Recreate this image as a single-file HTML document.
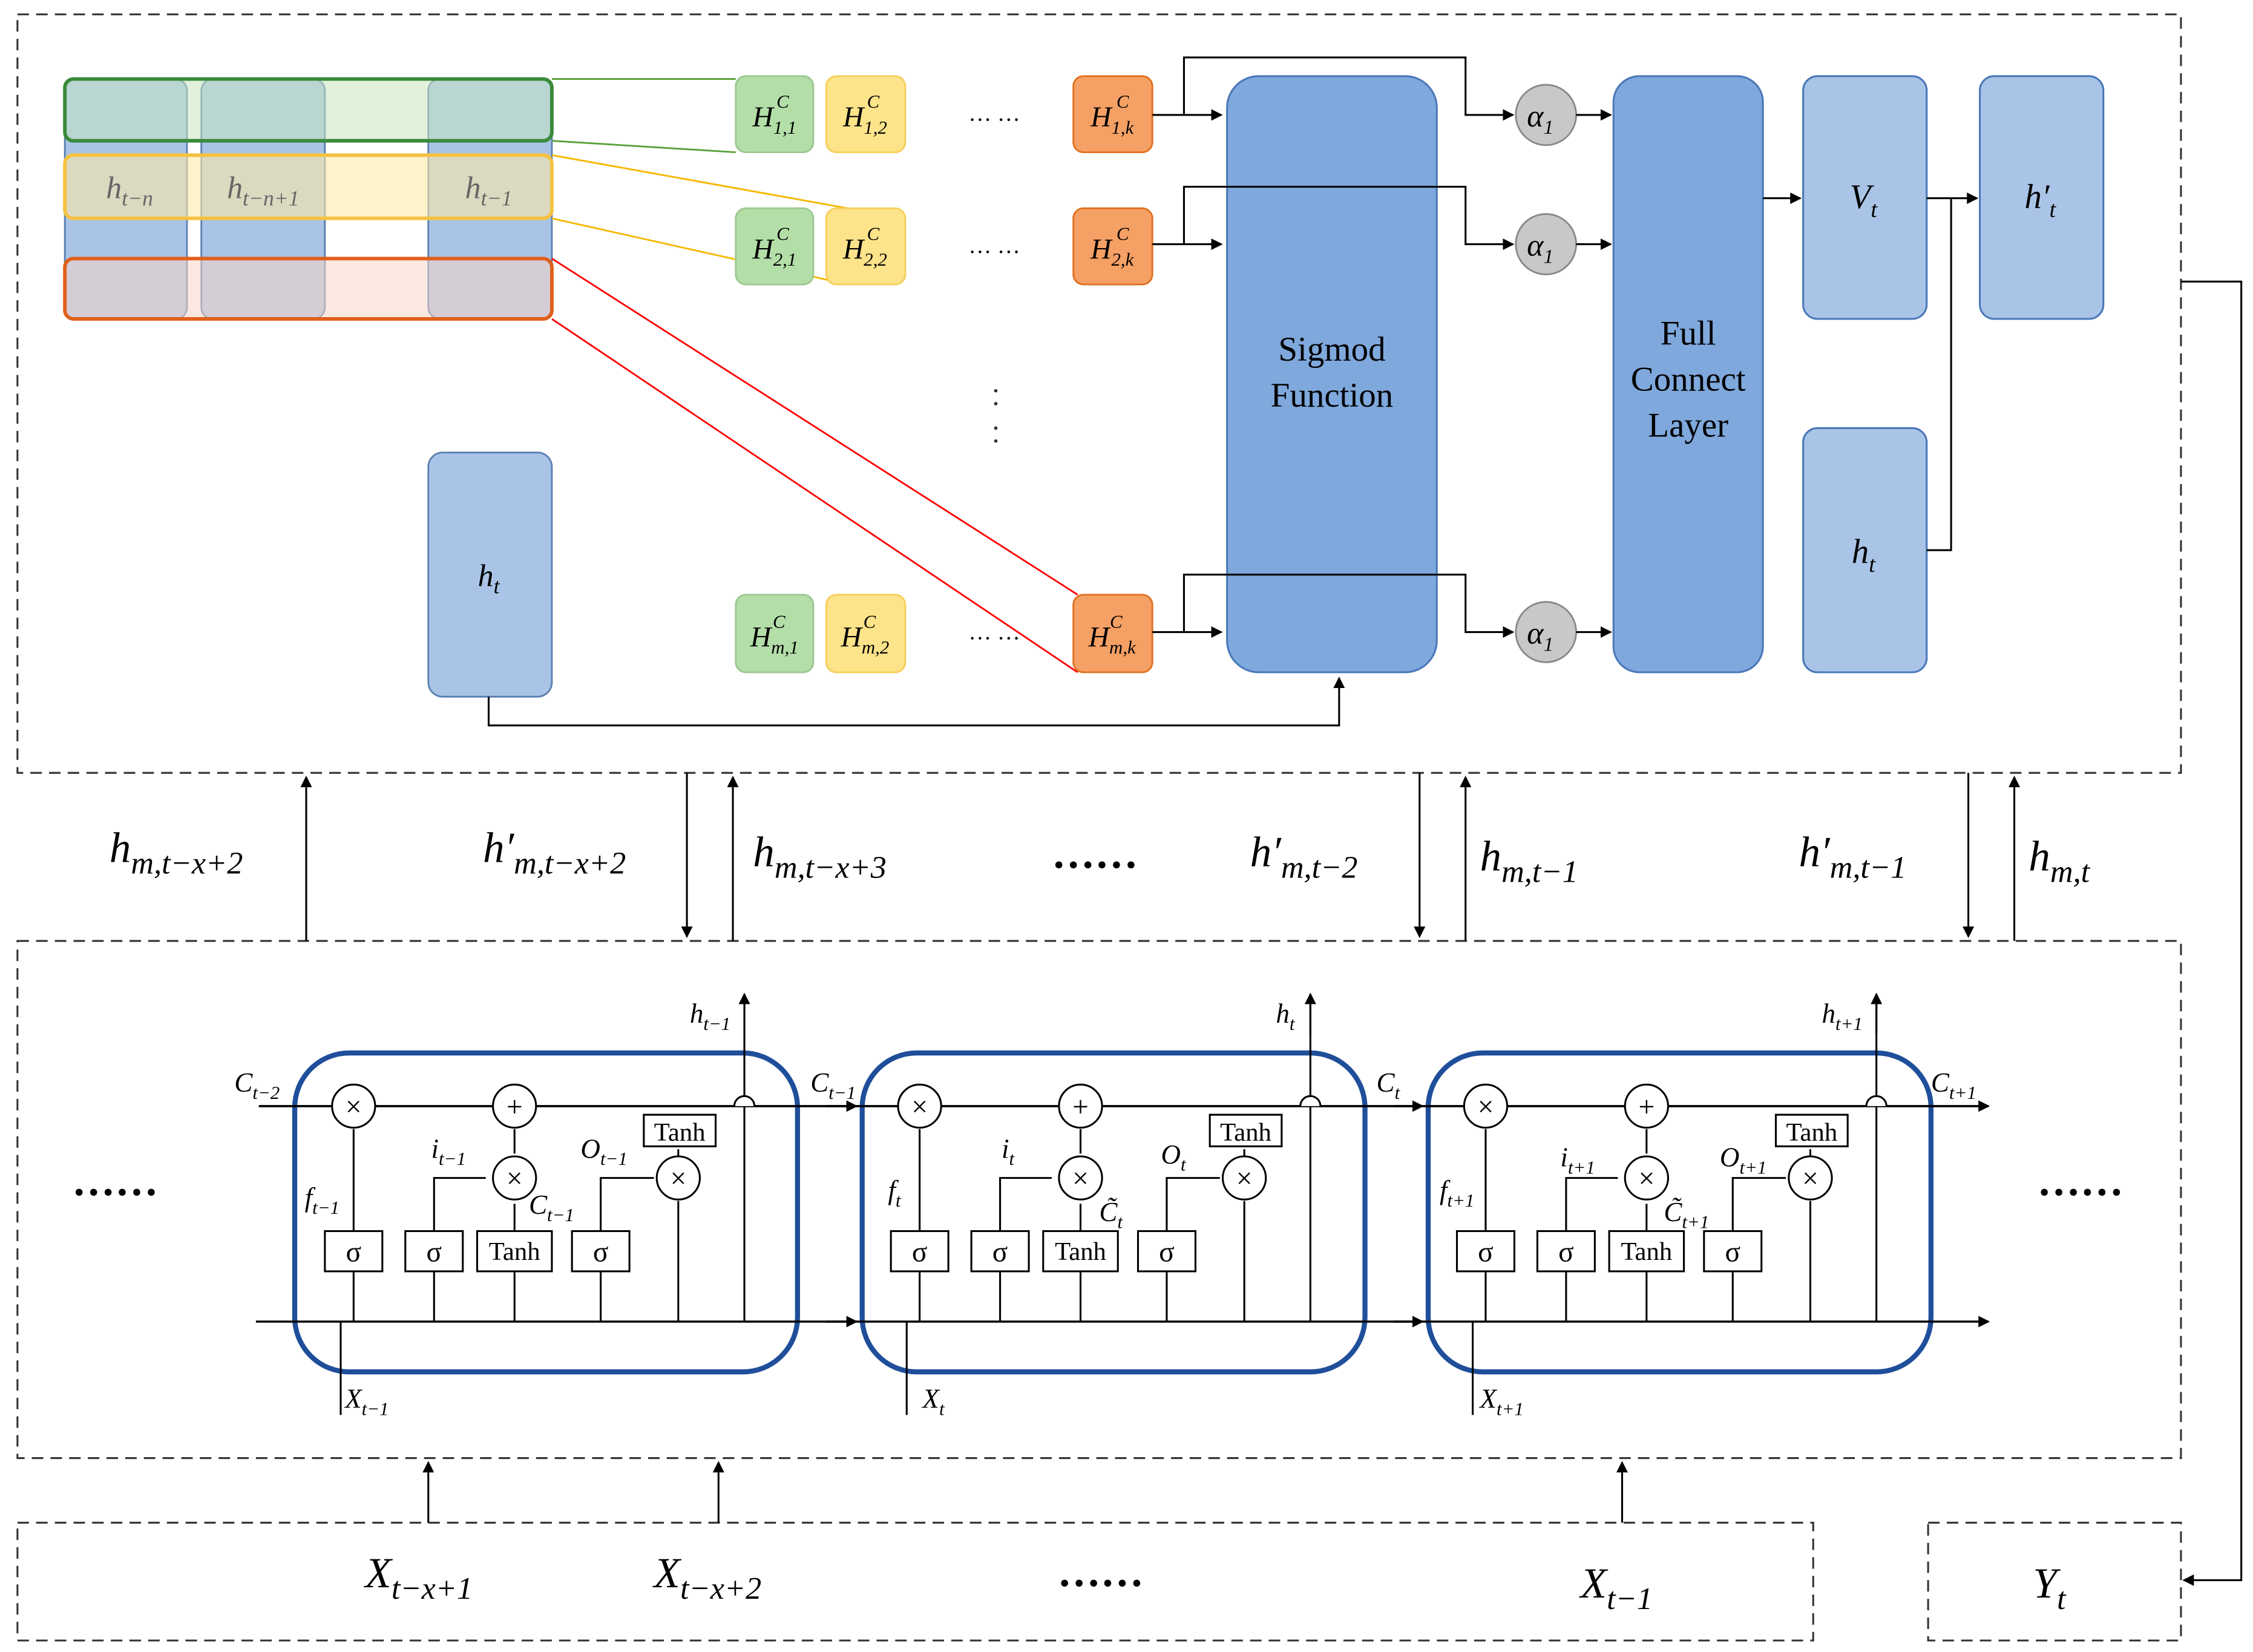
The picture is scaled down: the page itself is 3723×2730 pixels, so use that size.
<!DOCTYPE html>
<html><head><meta charset="utf-8"><style>
html,body{margin:0;padding:0;background:#fff;}
svg{display:block;}
text{font-family:"Liberation Serif",serif;}
.it{font-style:italic;}
</style></head><body>
<svg width="3723" height="2730" viewBox="0 0 1568 1150" xmlns="http://www.w3.org/2000/svg">
<defs>
<marker id="a" markerWidth="8" markerHeight="8" refX="7" refY="4" orient="auto" markerUnits="userSpaceOnUse"><path d="M0,0 L8,4 L0,8 z" fill="#000"/></marker>
</defs>
<rect width="1568" height="1150" fill="#fff"/>
<!-- dashed boxes -->
<g fill="none" stroke="#333" stroke-width="1.3" stroke-dasharray="8,5">
<rect x="12" y="10" width="1506" height="528"/>
<rect x="12" y="655" width="1506" height="360"/>
<rect x="12" y="1060" width="1250" height="82"/>
<rect x="1342" y="1060" width="176" height="82"/>
</g>
<!-- left stack columns -->
<g fill="#a9c4e6" stroke="#5a7fb0" stroke-width="1.2">
<rect x="45" y="55" width="85" height="167" rx="8"/>
<rect x="140" y="55" width="86" height="167" rx="8"/>
<rect x="298" y="55" width="86" height="167" rx="8"/>
<rect x="298" y="315" width="86" height="170" rx="10"/>
</g>
<rect x="45" y="55" width="339" height="43" rx="6" fill="#c9e6c0" fill-opacity="0.55" stroke="#3a8a3a" stroke-width="2.5"/>
<rect x="45" y="108" width="339" height="44" rx="6" fill="#fde9a8" fill-opacity="0.6" stroke="#f5c242" stroke-width="2.5"/>
<rect x="45" y="180" width="339" height="42" rx="6" fill="#f8d5c8" fill-opacity="0.55" stroke="#e0601a" stroke-width="2.5"/>
<text x="90" y="138" font-size="22" class="it" fill="#666" text-anchor="middle">h<tspan font-size="15" dy="5">t−n</tspan></text>
<text x="183" y="138" font-size="22" class="it" fill="#666" text-anchor="middle">h<tspan font-size="15" dy="5">t−n+1</tspan></text>
<text x="340" y="138" font-size="22" class="it" fill="#666" text-anchor="middle">h<tspan font-size="15" dy="5">t−1</tspan></text>
<text x="340" y="408" font-size="22" class="it" text-anchor="middle">h<tspan font-size="15" dy="5">t</tspan></text>
<!-- fan lines -->
<g stroke-width="1.2" fill="none">
<line x1="384" y1="55" x2="512" y2="55" stroke="#5aa03a"/>
<line x1="384" y1="98" x2="512" y2="106" stroke="#5aa03a"/>
<line x1="384" y1="108" x2="590" y2="145" stroke="#f5b800"/>
<line x1="384" y1="152" x2="590" y2="198" stroke="#f5b800"/>
<line x1="384" y1="180" x2="750" y2="414" stroke="#f00"/>
<line x1="384" y1="222" x2="750" y2="468" stroke="#f00"/>
</g>
<!-- H boxes -->
<g stroke-width="1.2">
<g fill="#b3dea8" stroke="#9cc88f">
<rect x="512" y="53" width="54" height="53" rx="7"/><rect x="512" y="145" width="54" height="53" rx="7"/><rect x="512" y="414" width="54" height="54" rx="7"/></g>
<g fill="#fde38a" stroke="#f5cf5a">
<rect x="575" y="53" width="55" height="53" rx="7"/><rect x="575" y="145" width="55" height="53" rx="7"/><rect x="575" y="414" width="55" height="54" rx="7"/></g>
<g fill="#f5a064" stroke="#e07020">
<rect x="747" y="53" width="55" height="53" rx="7"/><rect x="747" y="145" width="55" height="53" rx="7"/><rect x="747" y="414" width="55" height="54" rx="7"/></g>
</g>
<g font-size="20" class="it" text-anchor="middle">
<text x="539" y="88">H<tspan font-size="13" dy="5">1,1</tspan><tspan font-size="13" dx="-14" dy="-18">C</tspan></text>
<text x="602" y="88">H<tspan font-size="13" dy="5">1,2</tspan><tspan font-size="13" dx="-14" dy="-18">C</tspan></text>
<text x="774" y="88">H<tspan font-size="13" dy="5">1,k</tspan><tspan font-size="13" dx="-12" dy="-18">C</tspan></text>
<text x="539" y="180">H<tspan font-size="13" dy="5">2,1</tspan><tspan font-size="13" dx="-14" dy="-18">C</tspan></text>
<text x="602" y="180">H<tspan font-size="13" dy="5">2,2</tspan><tspan font-size="13" dx="-14" dy="-18">C</tspan></text>
<text x="774" y="180">H<tspan font-size="13" dy="5">2,k</tspan><tspan font-size="13" dx="-12" dy="-18">C</tspan></text>
<text x="539" y="450">H<tspan font-size="13" dy="5">m,1</tspan><tspan font-size="13" dx="-18" dy="-18">C</tspan></text>
<text x="602" y="450">H<tspan font-size="13" dy="5">m,2</tspan><tspan font-size="13" dx="-18" dy="-18">C</tspan></text>
<text x="774" y="450">H<tspan font-size="13" dy="5">m,k</tspan><tspan font-size="13" dx="-18" dy="-18">C</tspan></text>
</g>
<g font-size="16" text-anchor="middle"><text x="692" y="84">… …</text><text x="692" y="176">… …</text><text x="692" y="445">… …</text></g>
<g fill="#333"><circle cx="693" cy="272" r="1.2"/><circle cx="693" cy="281" r="1.2"/><circle cx="693" cy="298" r="1.2"/><circle cx="693" cy="307" r="1.2"/></g>
<!-- sigmoid & FC -->
<rect x="854" y="53" width="146" height="415" rx="22" fill="#7fa8dc" stroke="#4a78b8" stroke-width="1.3"/>
<text x="927" y="251" font-size="24" text-anchor="middle">Sigmod</text>
<text x="927" y="283" font-size="24" text-anchor="middle">Function</text>
<rect x="1123" y="53" width="104" height="415" rx="18" fill="#7fa8dc" stroke="#4a78b8" stroke-width="1.3"/>
<text x="1175" y="240" font-size="24" text-anchor="middle">Full</text>
<text x="1175" y="272" font-size="24" text-anchor="middle">Connect</text>
<text x="1175" y="304" font-size="24" text-anchor="middle">Layer</text>
<g fill="#a9c4e6" stroke="#4a78b8" stroke-width="1.3">
<rect x="1255" y="53" width="86" height="169" rx="10"/>
<rect x="1378" y="53" width="86" height="169" rx="10"/>
<rect x="1255" y="298" width="86" height="170" rx="10"/>
</g>
<text x="1297" y="145" font-size="24" class="it" text-anchor="middle">V<tspan font-size="16" dy="6">t</tspan></text>
<text x="1420" y="145" font-size="24" class="it" text-anchor="middle">h′<tspan font-size="16" dy="6">t</tspan></text>
<text x="1297" y="392" font-size="24" class="it" text-anchor="middle">h<tspan font-size="16" dy="6">t</tspan></text>
<!-- alphas -->
<g fill="#c8c8c8" stroke="#888" stroke-width="1.2">
<circle cx="1076" cy="80" r="21"/><circle cx="1076" cy="170" r="21"/><circle cx="1076" cy="440" r="21"/></g>
<g font-size="22" class="it" text-anchor="middle">
<text x="1072" y="88">α<tspan font-size="14" dy="5">1</tspan></text>
<text x="1072" y="178">α<tspan font-size="14" dy="5">1</tspan></text>
<text x="1072" y="448">α<tspan font-size="14" dy="5">1</tspan></text></g>
<!-- top connectors -->
<g stroke="#000" stroke-width="1.3" fill="none">
<polyline points="802,80 850,80" marker-end="url(#a)"/>
<polyline points="824,80 824,40 1020,40 1020,80 1053,80" marker-end="url(#a)"/>
<polyline points="802,170 850,170" marker-end="url(#a)"/>
<polyline points="824,170 824,130 1020,130 1020,170 1053,170" marker-end="url(#a)"/>
<polyline points="802,440 850,440" marker-end="url(#a)"/>
<polyline points="824,440 824,400 1020,400 1020,440 1053,440" marker-end="url(#a)"/>
<polyline points="1097,80 1121,80" marker-end="url(#a)"/>
<polyline points="1097,170 1121,170" marker-end="url(#a)"/>
<polyline points="1097,440 1121,440" marker-end="url(#a)"/>
<polyline points="1227,138 1253,138" marker-end="url(#a)"/>
<polyline points="1341,138 1376,138" marker-end="url(#a)"/>
<polyline points="1341,383 1358,383 1358,138"/>
<polyline points="340,485 340,505 932,505 932,472" marker-end="url(#a)"/>
<polyline points="1518,196 1560,196 1560,1100 1520,1100" marker-end="url(#a)"/>
<!-- between arrows -->
<polyline points="213,655 213,541" marker-end="url(#a)"/>
<polyline points="478,538 478,652" marker-end="url(#a)"/>
<polyline points="510,655 510,541" marker-end="url(#a)"/>
<polyline points="988,538 988,652" marker-end="url(#a)"/>
<polyline points="1020,655 1020,541" marker-end="url(#a)"/>
<polyline points="1370,538 1370,652" marker-end="url(#a)"/>
<polyline points="1402,655 1402,541" marker-end="url(#a)"/>
<polyline points="298,1060 298,1018" marker-end="url(#a)"/>
<polyline points="500,1060 500,1018" marker-end="url(#a)"/>
<polyline points="1129,1060 1129,1018" marker-end="url(#a)"/>
</g>
<g font-size="30" class="it">
<text x="76" y="600">h<tspan font-size="22" dy="8">m,t−x+2</tspan></text>
<text x="336" y="600">h′<tspan font-size="22" dy="8">m,t−x+2</tspan></text>
<text x="524" y="603">h<tspan font-size="22" dy="8">m,t−x+3</tspan></text>
<text x="870" y="603">h′<tspan font-size="22" dy="8">m,t−2</tspan></text>
<text x="1030" y="606">h<tspan font-size="22" dy="8">m,t−1</tspan></text>
<text x="1252" y="603">h′<tspan font-size="22" dy="8">m,t−1</tspan></text>
<text x="1412" y="606">h<tspan font-size="22" dy="8">m,t</tspan></text>
<text x="254" y="1105">X<tspan font-size="22" dy="8">t−x+1</tspan></text>
<text x="455" y="1105">X<tspan font-size="22" dy="8">t−x+2</tspan></text>
<text x="1100" y="1112">X<tspan font-size="22" dy="8">t−1</tspan></text>
<text x="1415" y="1112">Y<tspan font-size="22" dy="8">t</tspan></text>
</g>
<g font-size="30" font-weight="bold"><text x="732" y="604">……</text><text x="736" y="1104">……</text>
<text x="50" y="832">……</text><text x="1418" y="832">……</text></g>
<!-- LSTM cells -->
<g id="cells">
<g transform="translate(0,0)" id="c1">
<rect x="205" y="733" width="350" height="222" rx="38" fill="none" stroke="#1f4e9a" stroke-width="3.5"/>
</g>
<rect x="600" y="733" width="350" height="222" rx="38" fill="none" stroke="#1f4e9a" stroke-width="3.5"/>
<rect x="994" y="733" width="350" height="222" rx="38" fill="none" stroke="#1f4e9a" stroke-width="3.5"/>
</g>
<g stroke="#000" stroke-width="1.5" fill="none">
<!-- cell state lines -->
<polyline points="180,770 596,770" marker-end="url(#a)"/>
<polyline points="575,770 990,770" marker-end="url(#a)"/>
<polyline points="970,770 1384,770" marker-end="url(#a)"/>
<polyline points="178,920 596,920" marker-end="url(#a)"/>
<polyline points="575,920 990,920" marker-end="url(#a)"/>
<polyline points="970,920 1384,920" marker-end="url(#a)"/>
</g>
<g stroke="#000" stroke-width="1.3" fill="none">
<!-- cell 1 internals (offset 0) -->
<g id="in1">
<line x1="246" y1="920" x2="246" y2="885"/><line x1="246" y1="857" x2="246" y2="786"/>
<line x1="302" y1="920" x2="302" y2="885"/><polyline points="302,857 302,820 338,820"/>
<line x1="358" y1="920" x2="358" y2="885"/><line x1="358" y1="857" x2="358" y2="838"/>
<line x1="358" y1="803" x2="358" y2="786"/>
<line x1="418" y1="920" x2="418" y2="885"/><polyline points="418,857 418,820 455,820"/>
<line x1="472" y1="836" x2="472" y2="920"/><line x1="472" y1="805" x2="472" y2="800"/>
<line x1="518" y1="920" x2="518" y2="695"/>
<line x1="237" y1="985" x2="237" y2="920"/>
</g>
<use href="#in1" x="394"/>
<use href="#in1" x="788"/>
</g>
<g id="nodes1">
<g fill="#fff" stroke="#000" stroke-width="1.3">
<circle cx="246" cy="770" r="15"/><circle cx="358" cy="770" r="15"/><circle cx="358" cy="820" r="15"/><circle cx="472" cy="820" r="15"/>
<rect x="226" y="857" width="40" height="28"/><rect x="282" y="857" width="40" height="28"/><rect x="332" y="857" width="52" height="28"/><rect x="398" y="857" width="40" height="28"/>
<rect x="448" y="776" width="50" height="22"/>
</g>
<g font-size="20" text-anchor="middle"><text x="246" y="777">×</text><text x="358" y="777">+</text><text x="358" y="827">×</text><text x="472" y="827">×</text>
<text x="246" y="878">σ</text><text x="302" y="878">σ</text><text x="358" y="877" font-size="18">Tanh</text><text x="418" y="878">σ</text><text x="473" y="794" font-size="18">Tanh</text></g>
<path d="M511,770 a7,7 0 0 1 14,0" fill="#fff" stroke="#000" stroke-width="1.3"/>
</g>
<use href="#nodes1" x="394"/>
<use href="#nodes1" x="788"/>
<g stroke="#000" stroke-width="1.3" fill="none">
<polyline points="518,720 518,692" marker-end="url(#a)"/><polyline points="912,720 912,692" marker-end="url(#a)"/><polyline points="1306,720 1306,692" marker-end="url(#a)"/>
</g>
<g font-size="19" class="it">
<text x="163" y="760">C<tspan font-size="13" dy="5">t−2</tspan></text>
<text x="564" y="760">C<tspan font-size="13" dy="5">t−1</tspan></text>
<text x="958" y="760">C<tspan font-size="13" dy="5">t</tspan></text>
<text x="1344" y="760">C<tspan font-size="13" dy="5">t+1</tspan></text>
<text x="480" y="712">h<tspan font-size="13" dy="5">t−1</tspan></text>
<text x="888" y="712">h<tspan font-size="13" dy="5">t</tspan></text>
<text x="1268" y="712">h<tspan font-size="13" dy="5">t+1</tspan></text>
<text x="212" y="840">f<tspan font-size="13" dy="5">t−1</tspan></text>
<text x="618" y="835">f<tspan font-size="13" dy="5">t</tspan></text>
<text x="1002" y="835">f<tspan font-size="13" dy="5">t+1</tspan></text>
<text x="300" y="806">i<tspan font-size="13" dy="5">t−1</tspan></text>
<text x="697" y="806">i<tspan font-size="13" dy="5">t</tspan></text>
<text x="1086" y="812">i<tspan font-size="13" dy="5">t+1</tspan></text>
<text x="404" y="806">O<tspan font-size="13" dy="5">t−1</tspan></text>
<text x="808" y="810">O<tspan font-size="13" dy="5">t</tspan></text>
<text x="1197" y="812">O<tspan font-size="13" dy="5">t+1</tspan></text>
<text x="368" y="845">C<tspan font-size="13" dy="5">t−1</tspan></text>
<text x="765" y="850">C̃<tspan font-size="13" dy="5">t</tspan></text>
<text x="1158" y="850">C̃<tspan font-size="13" dy="5">t+1</tspan></text>
<text x="240" y="980">X<tspan font-size="13" dy="5">t−1</tspan></text>
<text x="642" y="980">X<tspan font-size="13" dy="5">t</tspan></text>
<text x="1030" y="980">X<tspan font-size="13" dy="5">t+1</tspan></text>
</g>
</svg>
</body></html>
